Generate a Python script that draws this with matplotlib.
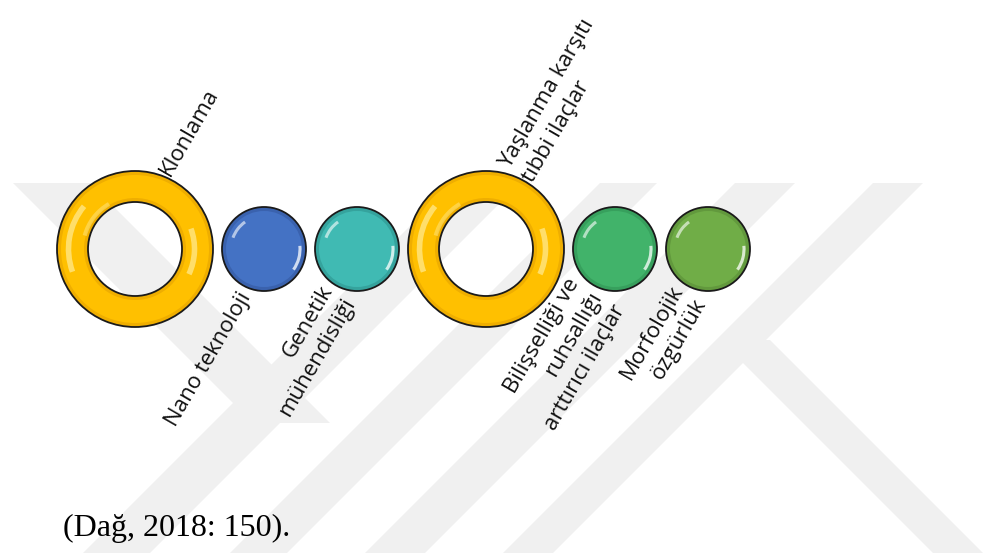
import numpy as np
import matplotlib
matplotlib.use("Agg")
import matplotlib.pyplot as plt
from matplotlib.patches import Circle, Wedge, Arc, Polygon

# data: items in the diagram, left to right
labels = ["Klonlama", "Nano teknoloji", "Genetik\nmühendisliği",
          "Yaşlanma karşıtı\ntıbbi ilaçlar",
          "Bilişselliği ve\nruhsallığı\narttırıcı ilaçlar",
          "Morfolojik\nözgürlük"]
kinds = ["ring", "dot", "dot", "ring", "dot", "dot"]
colors = ["#FFC000", "#4472C4", "#40BAB3", "#FFC000", "#41B36A", "#70AD47"]
edge_colors = ["#EFAE00", "#3A62AE", "#35A39D", "#EFAE00", "#37A05D", "#62993D"]
caption = "(Dağ, 2018: 150)."

W, H = 983, 558
fig = plt.figure(figsize=(W / 100, H / 100), dpi=100)
ax = fig.add_axes([0, 0, 1, 1])
ax.set_xlim(0, W)
ax.set_ylim(0, H)
ax.set_aspect("equal")
ax.axis("off")

# faint watermark bands in the background
wm = "#F0F0F0"
top, bot = H - 183, H - 553
span = top - bot
rising = [(83, 67), (230, 57), (365, 60), (503, 50)]   # (x at bottom, width)
for x, w in rising:
    ax.add_patch(Polygon([(x, bot), (x + w, bot), (x + w + span, top), (x + span, top)],
                         color=wm, lw=0, zorder=0))
# falling band at the top left, ends in the first rising band
ax.add_patch(Polygon([(13, top), (90, top), (330, top - 240), (253, top - 240)],
                     color=wm, lw=0, zorder=0))
# leg of the K down to the bottom right
ax.add_patch(Polygon([(720, H - 340), (770, H - 340), (983, bot), (933, bot)],
                     color=wm, lw=0, zorder=0))

cy = H - 249
R_big, R_in, R_small, gap = 78, 47, 42, 9
x_left = 57
angle = 60
font = ["Open Sans", "DejaVu Sans"]
fs = 16

for lab, kind, col, ecol in zip(labels, kinds, colors, edge_colors):
    r = R_big if kind == "ring" else R_small
    cx = x_left + r
    x_left = cx + r + gap
    if kind == "ring":
        ax.add_patch(Wedge((cx, cy), r, 0, 360, width=r - R_in, facecolor=ecol,
                           edgecolor="none", zorder=2))
        ax.add_patch(Wedge((cx, cy), r - 4, 0, 360, width=r - R_in - 8, facecolor=col,
                           edgecolor="none", zorder=3))
        ax.add_patch(Wedge((cx, cy), r, 0, 360, width=r - R_in, facecolor="none",
                           edgecolor="#1a1a1a", lw=1.3, zorder=5))
        mid = (r + R_in) / 2
        ax.add_patch(Arc((cx, cy), 2 * (mid + 4), 2 * (mid + 4), theta1=140, theta2=200,
                         color="#FFF3B0", lw=4, alpha=0.6, zorder=4))
        ax.add_patch(Arc((cx, cy), 2 * (mid - 3), 2 * (mid - 3), theta1=-25, theta2=20,
                         color="#FFF3B0", lw=4, alpha=0.6, zorder=4))
        ax.add_patch(Arc((cx, cy), 2 * (R_in + 5), 2 * (R_in + 5), theta1=120, theta2=165,
                         color="#FFE070", lw=3, alpha=0.6, zorder=4))
        a = np.deg2rad(68)
        ax.text(cx + (r + 3) * np.cos(a), cy + (r + 3) * np.sin(a), lab,
                rotation=angle, rotation_mode="anchor", ha="left", va="center",
                multialignment="left", fontsize=fs, family=font, color="#111111",
                linespacing=1.35, zorder=6)
    else:
        ax.add_patch(Circle((cx, cy), r, facecolor=ecol, edgecolor="none", zorder=2))
        ax.add_patch(Circle((cx, cy), r - 4, facecolor=col, edgecolor="none", zorder=3))
        ax.add_patch(Circle((cx, cy), r, facecolor="none", edgecolor="#1a1a1a", lw=1.3, zorder=5))
        ax.add_patch(Arc((cx, cy), 2 * (r - 9), 2 * (r - 9), theta1=125, theta2=160,
                         color="white", lw=2.2, alpha=0.6, zorder=4))
        ax.add_patch(Arc((cx, cy), 2 * (r - 6), 2 * (r - 6), theta1=-35, theta2=5,
                         color="white", lw=2.2, alpha=0.75, zorder=4))
        a = np.deg2rad(248)
        ax.text(cx + (r + 6) * np.cos(a), cy + (r + 6) * np.sin(a), lab,
                rotation=angle, rotation_mode="anchor", ha="right", va="center",
                multialignment="right", fontsize=fs, family=font, color="#111111",
                linespacing=1.35, zorder=6)

ax.text(63, H - 536, caption, ha="left", va="baseline", fontsize=23,
        family="Liberation Serif", color="black", zorder=6)

fig.savefig("out.png", dpi=100)
